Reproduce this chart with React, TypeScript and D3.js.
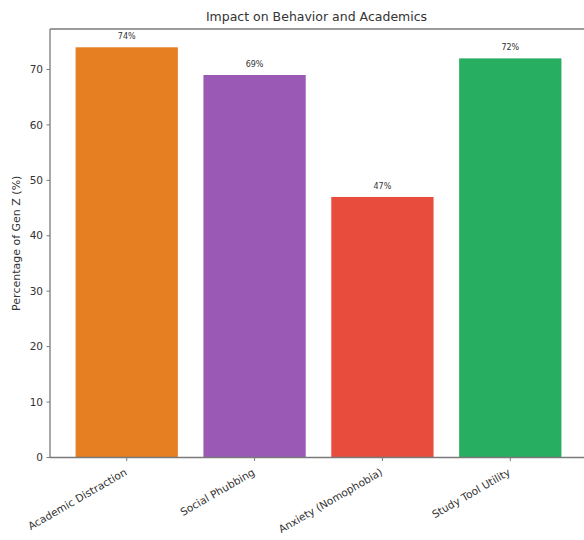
import React from "react";
import * as d3 from "d3";

const categories = [
  "Academic Distraction",
  "Social Phubbing",
  "Anxiety (Nomophobia)",
  "Study Tool Utility",
];
const percentages = [74, 69, 47, 72];
const barColors = ["#e67e22", "#9b59b6", "#e74c3c", "#27ae60"];
const yTicks = [0, 10, 20, 30, 40, 50, 60, 70];

const W = 584;
const H = 540;
const FONT = "'DejaVu Sans', sans-serif";

export default function App() {
  const left = 50;
  const right = 587;
  const top = 29;
  const bottom = 457.5;

  // Category axis spans -0.6 .. n-0.4 like a default bar plot
  const x = d3
    .scaleLinear()
    .domain([-0.6, categories.length - 0.4])
    .range([left, right]);
  const barW = x(0.4) - x(-0.4);
  const y = d3.scaleLinear().domain([0, 77.3]).range([bottom, top]);

  const axisColor = "#7a7a7a";
  const textColor = "#333";

  return (
    <svg
      width={W}
      height={H}
      style={{ position: "fixed", left: 0, top: 0, background: "#fff" }}
      fontFamily={FONT}
    >
      <rect x={0} y={0} width={W} height={H} fill="#fff" />
      <text
        x={(left + right) / 2 - 2}
        y={21}
        textAnchor="middle"
        fontSize={12.5}
        fill={textColor}
      >
        Impact on Behavior and Academics
      </text>

      {categories.map((c, i) => (
        <g key={c}>
          <rect
            x={x(i) - barW / 2}
            y={y(percentages[i])}
            width={barW}
            height={bottom - y(percentages[i])}
            fill={barColors[i]}
          />
          <text
            x={x(i)}
            y={y(percentages[i]) - 8}
            textAnchor="middle"
            fontSize={8}
            fill={textColor}
          >
            {percentages[i]}%
          </text>
        </g>
      ))}

      {/* spines: left, top, bottom */}
      <line x1={left} x2={left} y1={top} y2={bottom} stroke={axisColor} strokeWidth={1.3} />
      <line x1={left} x2={right} y1={top} y2={top} stroke={axisColor} strokeWidth={1.3} />
      <line x1={left} x2={right} y1={bottom} y2={bottom} stroke={axisColor} strokeWidth={1.3} />

      {yTicks.map((t) => (
        <g key={t}>
          <line x1={left - 3.5} x2={left} y1={y(t)} y2={y(t)} stroke={axisColor} strokeWidth={1} />
          <text
            x={left - 7}
            y={y(t)}
            dy="0.35em"
            textAnchor="end"
            fontSize={10.5}
            fill={textColor}
          >
            {t}
          </text>
        </g>
      ))}

      {categories.map((c, i) => (
        <g key={"x" + c}>
          <line x1={x(i)} x2={x(i)} y1={bottom} y2={bottom + 3.5} stroke={axisColor} strokeWidth={1} />
          <text
            transform={`translate(${x(i) - 3},${bottom + 10}) rotate(-30)`}
            dy="0.75em"
            textAnchor="end"
            fontSize={10.5}
            fill={textColor}
          >
            {c}
          </text>
        </g>
      ))}

      <text
        transform={`translate(20,${(top + bottom) / 2}) rotate(-90)`}
        textAnchor="middle"
        fontSize={11}
        fill={textColor}
      >
        Percentage of Gen Z (%)
      </text>
    </svg>
  );
}
